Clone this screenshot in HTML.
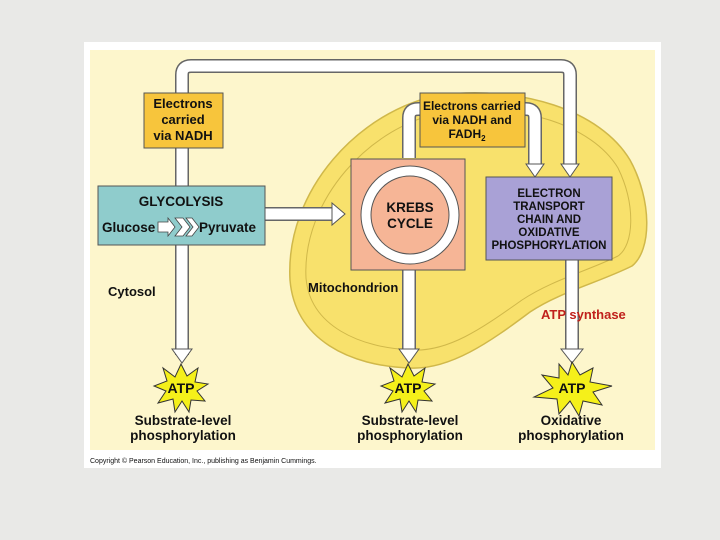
<!DOCTYPE html>
<html><head><style>
body{margin:0;width:720px;height:540px;background:#e9e9e7;overflow:hidden}
svg{display:block}
text{font-family:"Liberation Sans",sans-serif;font-weight:bold;fill:#111}
</style></head><body>
<svg width="720" height="540" viewBox="0 0 720 540">
<rect x="84" y="42" width="577" height="426" fill="#fff"/>
<rect x="90" y="50" width="565" height="400" fill="#fdf6cc"/>
<!-- mitochondrion -->
<path d="M290,280 C285,190 360,110 440,95 C520,85 600,110 630,160 C652,200 652,250 632,266 C600,282 560,292 530,312 C490,342 450,370 410,368 C350,366 295,340 290,280 Z" fill="#f8e16c" stroke="#d0b84a" stroke-width="1.5"/>
<path d="M306,278 C302,200 370,125 445,112 C520,102 592,125 618,168 C636,205 634,245 618,256 C590,270 552,280 522,300 C485,326 450,352 412,350 C360,348 310,326 306,278 Z" fill="none" stroke="#d0b84a" stroke-width="1"/>
<g fill="none" stroke-linejoin="round">
<g stroke="#666" stroke-width="14">
<path d="M182,355 V75 Q182,66 191,66 H561 Q570,66 570,75 V168"/>
<path d="M409,158 V118 Q409,109 418,109 H420"/>
<path d="M525,109 H526 Q535,109 535,118 V168"/>
<path d="M409,270 V352"/>
<path d="M572,260 V352"/>
<path d="M265,214 H335"/>
</g>
<g stroke="#fff" stroke-width="11">
<path d="M182,355 V75 Q182,66 191,66 H561 Q570,66 570,75 V168"/>
<path d="M409,158 V118 Q409,109 418,109 H420"/>
<path d="M525,109 H526 Q535,109 535,118 V168"/>
<path d="M409,270 V352"/>
<path d="M572,260 V352"/>
<path d="M265,214 H335"/>
</g>
</g>
<!-- arrowheads -->
<g fill="#fff" stroke="#555" stroke-width="1">
<path d="M172,349 H192 L182,363 Z"/>
<path d="M399,349 H419 L409,363 Z"/>
<path d="M561,349 H583 L572,363 Z"/>
<path d="M526,164 H544 L535,177 Z"/>
<path d="M561,164 H579 L570,177 Z"/>
<path d="M332,203 L345,214 L332,225 Z"/>
</g>
<!-- boxes -->
<rect x="144" y="93" width="79" height="55" fill="#f7c53c" stroke="#555"/>
<text x="183" y="108" font-size="13" text-anchor="middle">Electrons</text>
<text x="183" y="124" font-size="13" text-anchor="middle">carried</text>
<text x="183" y="140" font-size="13" text-anchor="middle">via NADH</text>
<rect x="98" y="186" width="167" height="59" fill="#8fcccc" stroke="#555"/>
<text x="181" y="206" font-size="13.5" text-anchor="middle">GLYCOLYSIS</text>
<text x="102" y="232" font-size="13.5">Glucose</text>
<text x="199" y="232" font-size="13.5">Pyruvate</text>
<g fill="#fff" stroke="#444" stroke-width="0.8">
<path d="M158,222 H168 V218 L175,227 L168,236 V232 H158 Z"/>
<path d="M175,218 L183,218 L190,227 L183,236 L175,236 L182,227 Z"/>
<path d="M186,218 L192,218 L199,227 L192,236 L186,236 L193,227 Z"/>
</g>
<rect x="351" y="159" width="114" height="111" fill="#f6b596" stroke="#555"/>
<circle cx="410" cy="215" r="44" fill="none" stroke="#555" stroke-width="11"/>
<circle cx="410" cy="215" r="44" fill="none" stroke="#fff" stroke-width="9"/>
<text x="410" y="212" font-size="13.5" text-anchor="middle">KREBS</text>
<text x="410" y="228" font-size="13.5" text-anchor="middle">CYCLE</text>
<rect x="420" y="93" width="105" height="54" fill="#f7c53c" stroke="#555"/>
<text x="472" y="110" font-size="12" text-anchor="middle">Electrons carried</text>
<text x="472" y="124" font-size="12" text-anchor="middle">via NADH and</text>
<text x="467" y="138" font-size="12" text-anchor="middle">FADH<tspan font-size="8" dy="3">2</tspan></text>
<rect x="486" y="177" width="126" height="83" fill="#a9a1d6" stroke="#555"/>
<g font-size="11.5" text-anchor="middle">
<text x="549" y="197">ELECTRON</text>
<text x="549" y="210">TRANSPORT</text>
<text x="549" y="223">CHAIN AND</text>
<text x="549" y="236">OXIDATIVE</text>
<text x="549" y="249">PHOSPHORYLATION</text>
</g>
<text x="108" y="296" font-size="13">Cytosol</text>
<text x="308" y="292" font-size="13">Mitochondrion</text>
<text x="541" y="319" font-size="13" style="fill:#c0211c">ATP  synthase</text>
<!-- stars -->
<g fill="#f5f01a" stroke="#333" stroke-width="1">
<path id="s" d="M0,-24 L6,-12 L17,-20 L14,-6 L27,-4 L16,3 L24,13 L10,12 L8,24 L1,13 L-6,24 L-8,11 L-23,15 L-15,3 L-27,-2 L-14,-7 L-18,-20 L-6,-11 Z" transform="translate(181,388)"/>
<use href="#s" transform="translate(227,0)"/>
<path d="M0,-26 L8,-13 L21,-20 L18,-6 L40,-2 L21,4 L30,17 L11,13 L7,28 L-2,13 L-13,26 L-15,11 L-38,9 L-19,0 L-30,-13 L-13,-10 L-13,-24 L-4,-13 Z" transform="translate(572,388)"/>
</g>
<text x="181" y="393" font-size="14" text-anchor="middle">ATP</text>
<text x="408" y="393" font-size="14" text-anchor="middle">ATP</text>
<text x="572" y="393" font-size="14" text-anchor="middle">ATP</text>
<g font-size="13.5" text-anchor="middle">
<text x="183" y="425">Substrate-level</text>
<text x="183" y="440">phosphorylation</text>
<text x="410" y="425">Substrate-level</text>
<text x="410" y="440">phosphorylation</text>
<text x="571" y="425">Oxidative</text>
<text x="571" y="440">phosphorylation</text>
</g>
<text x="90" y="463" font-size="7" style="font-weight:normal">Copyright © Pearson Education, Inc., publishing as Benjamin Cummings.</text>
</svg>
</body></html>
